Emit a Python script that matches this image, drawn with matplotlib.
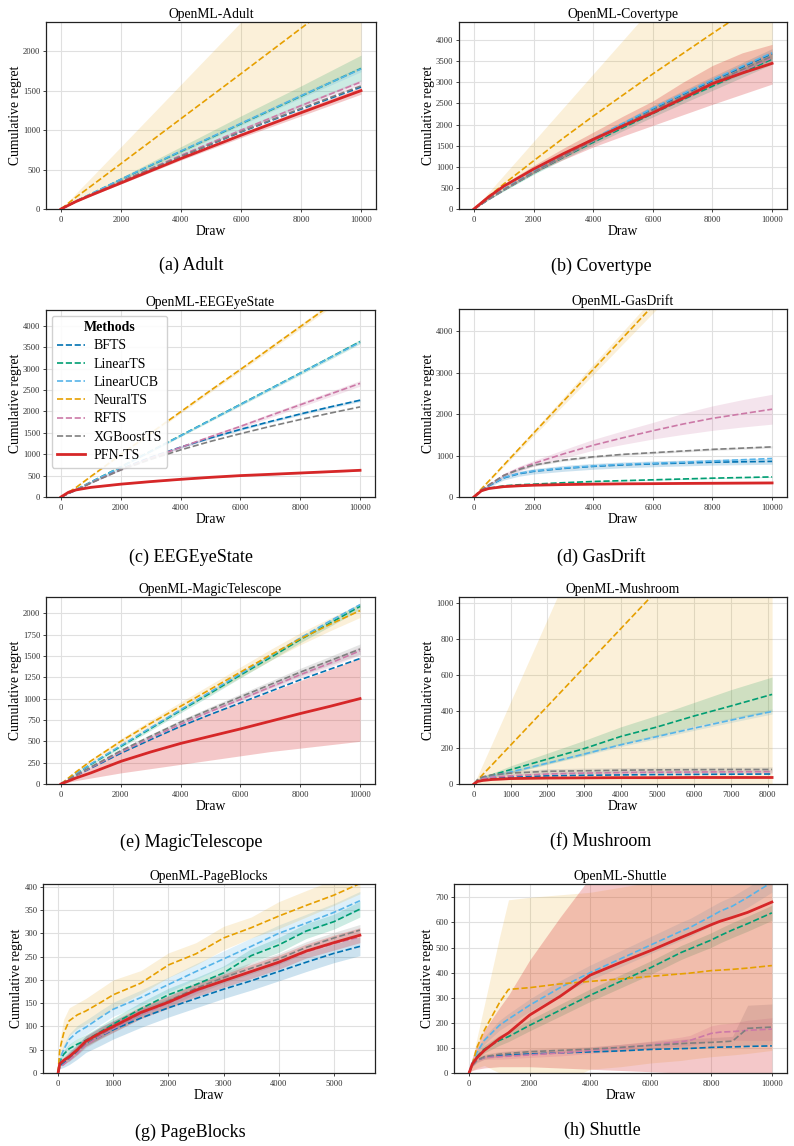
import numpy as np
import matplotlib
matplotlib.use("Agg")
import matplotlib.pyplot as plt
from matplotlib.ticker import MultipleLocator

plt.rcParams['font.family'] = ['Liberation Serif', 'DejaVu Serif']

METHODS = ["BFTS", "LinearTS", "LinearUCB", "NeuralTS", "RFTS", "XGBoostTS", "PFN-TS"]
COLORS = {"BFTS": "#0072B2", "LinearTS": "#009E73", "LinearUCB": "#56B4E9",
          "NeuralTS": "#E69F00", "RFTS": "#CC79A7", "XGBoostTS": "#7f7f7f",
          "PFN-TS": "#d62728"}

# ---------------- Adult
ADULT_X = [0, 500, 1000, 2000, 4000, 6000, 8000, 10000]
ADULT = {
    "BFTS":      [0, 95, 180, 345, 665, 975, 1265, 1545],
    "LinearTS":  [0, 100, 190, 375, 730, 1080, 1430, 1780],
    "LinearUCB": [0, 100, 192, 378, 735, 1085, 1435, 1775],
    "NeuralTS":  [0, 150, 290, 575, 1145, 1715, 2290, 2860],
    "RFTS":      [0, 95, 182, 350, 680, 1000, 1310, 1610],
    "XGBoostTS": [0, 95, 180, 347, 668, 980, 1275, 1560],
    "PFN-TS":    [0, 95, 175, 330, 640, 935, 1220, 1500],
}
ADULT_BAND = {
    "NeuralTS": ([0, 80, 170, 350, 710, 1070, 1420, 1770],
                 [0, 200, 395, 790, 1580, 2370, 3160, 3950]),
    "LinearTS": ([0, 95, 180, 350, 670, 990, 1300, 1620],
                 [0, 110, 205, 400, 790, 1180, 1560, 1950]),
    "LinearUCB": [0, 5, 8, 12, 20, 25, 30, 35],
    "RFTS":      [0, 4, 6, 10, 15, 20, 25, 30],
    "PFN-TS":    [0, 5, 8, 12, 20, 30, 40, 45],
}

# ---------------- Covertype
COVER_X = [0, 500, 1000, 2000, 3000, 4000, 5000, 6000, 7000, 8000, 9000, 10000]
COVER = {
    "BFTS":      [0, 240, 460, 880, 1270, 1650, 2010, 2370, 2710, 3040, 3360, 3680],
    "LinearTS":  [0, 230, 445, 850, 1225, 1580, 1925, 2260, 2590, 2910, 3230, 3550],
    "LinearUCB": [0, 240, 465, 890, 1285, 1665, 2030, 2390, 2730, 3060, 3385, 3700],
    "NeuralTS":  [0, 300, 590, 1140, 1680, 2200, 2700, 3200, 3680, 4160, 4630, 5100],
    "RFTS":      [0, 230, 450, 860, 1240, 1610, 1960, 2305, 2635, 2960, 3270, 3580],
    "XGBoostTS": [0, 235, 455, 870, 1255, 1625, 1985, 2335, 2665, 2990, 3305, 3620],
    "PFN-TS":    [0, 290, 540, 945, 1310, 1650, 1970, 2280, 2620, 2970, 3220, 3450],
}
COVER_BAND = {
    "NeuralTS": ([0, 230, 440, 840, 1220, 1590, 1940, 2280, 2600, 2920, 3240, 3560],
                 [0, 400, 800, 1600, 2400, 3200, 4000, 4800, 5600, 6400, 7200, 8000]),
    "BFTS":      [0, 10, 20, 35, 50, 60, 70, 80, 90, 100, 110, 120],
    "LinearTS":  [0, 10, 20, 35, 50, 60, 70, 80, 90, 100, 110, 120],
    "XGBoostTS": [0, 10, 20, 35, 50, 60, 70, 80, 90, 100, 110, 120],
    "PFN-TS": ([0, 260, 490, 860, 1170, 1470, 1730, 1980, 2230, 2480, 2720, 2960],
               [0, 320, 590, 1030, 1440, 1820, 2200, 2560, 3000, 3400, 3700, 3900]),
}

# ---------------- EEGEyeState
EEG_X = [0, 250, 500, 1000, 2000, 3000, 4000, 5000, 6000, 7000, 8000, 9000, 10000]
EEG = {
    "BFTS":      [0, 85, 160, 335, 655, 930, 1165, 1380, 1580, 1765, 1940, 2105, 2262],
    "LinearTS":  [0, 90, 170, 350, 705, 1070, 1435, 1800, 2165, 2530, 2895, 3260, 3630],
    "LinearUCB": [0, 90, 170, 348, 700, 1065, 1430, 1795, 2160, 2525, 2890, 3255, 3615],
    "NeuralTS":  [0, 110, 220, 480, 990, 1490, 1990, 2490, 2980, 3480, 3980, 4480, 4980],
    "RFTS":      [0, 85, 160, 330, 640, 910, 1160, 1410, 1650, 1905, 2155, 2405, 2655],
    "XGBoostTS": [0, 85, 158, 325, 630, 880, 1100, 1300, 1480, 1650, 1810, 1960, 2105],
    "PFN-TS":    [0, 110, 165, 225, 300, 360, 413, 460, 500, 530, 561, 592, 624],
}
EEG_BAND = {
    "NeuralTS":  [0, 5, 10, 15, 25, 30, 35, 40, 45, 50, 55, 60, 65],
    "LinearTS":  [0, 5, 8, 12, 18, 22, 26, 30, 34, 38, 42, 46, 50],
    "RFTS":      [0, 5, 8, 12, 18, 24, 30, 36, 42, 48, 54, 60, 66],
    "BFTS":      [0, 4, 6, 10, 14, 18, 20, 22, 24, 26, 28, 30, 32],
    "PFN-TS":    [0, 4, 6, 8, 10, 11, 12, 13, 14, 15, 16, 17, 18],
}

# ---------------- GasDrift
GAS_X = [0, 250, 500, 1000, 1500, 2000, 3000, 4000, 5000, 6000, 7000, 8000, 9000, 10000]
GAS = {
    "BFTS":      [0, 160, 270, 460, 560, 620, 690, 740, 775, 800, 820, 840, 850, 860],
    "LinearTS":  [0, 150, 210, 270, 295, 310, 345, 375, 395, 415, 435, 455, 470, 485],
    "LinearUCB": [0, 160, 275, 470, 570, 630, 700, 750, 790, 815, 840, 870, 900, 930],
    "NeuralTS":  [0, 195, 385, 770, 1155, 1540, 2310, 3080, 3850, 4620, 5390, 6160, 6930, 7700],
    "RFTS":      [0, 170, 290, 520, 680, 810, 1040, 1250, 1430, 1600, 1760, 1900, 2010, 2120],
    "XGBoostTS": [0, 170, 290, 520, 660, 770, 890, 970, 1030, 1070, 1110, 1150, 1180, 1210],
    "PFN-TS":    [0, 150, 205, 250, 270, 285, 300, 310, 318, 322, 328, 332, 336, 340],
}
GAS_BAND = {
    "NeuralTS":  [0, 10, 20, 35, 50, 65, 95, 125, 150, 180, 210, 240, 270, 300],
    "RFTS": ([0, 150, 260, 480, 620, 740, 940, 1130, 1270, 1400, 1510, 1610, 1690, 1760],
             [0, 190, 320, 570, 740, 880, 1140, 1390, 1600, 1800, 2020, 2200, 2350, 2480]),
    "BFTS":      [0, 15, 30, 50, 60, 65, 70, 70, 70, 70, 70, 70, 70, 70],
    "XGBoostTS": [0, 10, 15, 20, 25, 25, 25, 25, 25, 25, 25, 25, 25, 25],
    "LinearTS":  [0, 8, 10, 12, 12, 12, 12, 12, 12, 12, 12, 12, 12, 12],
    "PFN-TS":    [0, 8, 10, 12, 12, 12, 14, 14, 15, 16, 17, 18, 19, 20],
}

# ---------------- MagicTelescope
MAGIC_X = [0, 500, 1000, 2000, 3000, 4000, 5000, 6000, 7000, 8000, 9000, 10000]
MAGIC = {
    "BFTS":      [0, 97, 185, 360, 520, 675, 815, 950, 1085, 1220, 1345, 1470],
    "LinearTS":  [0, 118, 230, 440, 650, 860, 1065, 1275, 1480, 1690, 1885, 2080],
    "LinearUCB": [0, 120, 235, 450, 660, 870, 1080, 1290, 1500, 1710, 1910, 2100],
    "NeuralTS":  [0, 140, 270, 500, 710, 910, 1110, 1310, 1510, 1700, 1870, 2030],
    "RFTS":      [0, 100, 192, 375, 540, 700, 850, 990, 1135, 1280, 1415, 1560],
    "XGBoostTS": [0, 105, 200, 390, 560, 725, 875, 1020, 1165, 1310, 1445, 1580],
    "PFN-TS":    [0, 70, 130, 265, 375, 475, 560, 645, 735, 825, 910, 1000],
}
MAGIC_BAND = {
    "NeuralTS":  [0, 10, 20, 30, 40, 50, 55, 60, 65, 70, 75, 80],
    "LinearTS":  [0, 8, 12, 18, 22, 26, 30, 32, 34, 36, 38, 40],
    "XGBoostTS": [0, 8, 12, 18, 22, 26, 30, 35, 40, 45, 50, 60],
    "RFTS":      [0, 8, 12, 16, 20, 24, 28, 32, 36, 40, 44, 48],
    "PFN-TS": ([0, 40, 70, 130, 180, 230, 280, 330, 380, 420, 460, 500],
               [0, 95, 185, 370, 530, 690, 830, 950, 1080, 1210, 1340, 1480]),
}

# ---------------- Mushroom
MUSH_X = [0, 100, 250, 500, 1000, 2000, 3000, 4000, 5000, 6000, 7000, 8124]
MUSH = {
    "BFTS":      [0, 15, 25, 32, 38, 45, 48, 50, 52, 53, 54, 55],
    "LinearTS":  [0, 20, 35, 50, 79, 137, 195, 262, 315, 375, 430, 494],
    "LinearUCB": [0, 18, 32, 45, 66, 115, 165, 216, 262, 308, 352, 400],
    "NeuralTS":  [0, 21, 54, 107, 214, 428, 642, 856, 1070, 1284, 1498, 1739],
    "RFTS":      [0, 18, 30, 38, 45, 55, 60, 63, 65, 66, 67, 68],
    "XGBoostTS": [0, 25, 40, 50, 60, 70, 73, 76, 78, 79, 80, 80],
    "PFN-TS":    [0, 14, 20, 25, 30, 33, 34, 35, 35, 36, 36, 36],
}
MUSH_BAND = {
    "NeuralTS": ([0, 0, 0, 0, 0, 0, 0, 0, 0, 0, 0, 0],
                 [0, 45, 114, 227, 454, 908, 1362, 1816, 2270, 2724, 3178, 3688]),
    "LinearTS": ([0, 15, 28, 40, 60, 110, 160, 220, 265, 320, 360, 400],
                 [0, 25, 42, 60, 100, 170, 240, 315, 380, 450, 520, 590]),
    "LinearUCB": [0, 3, 4, 5, 6, 8, 9, 10, 11, 12, 13, 14],
    "XGBoostTS": [0, 6, 8, 10, 12, 14, 15, 15, 15, 15, 15, 15],
    "RFTS":      [0, 5, 6, 8, 9, 10, 10, 10, 10, 10, 10, 10],
    "PFN-TS":    [0, 3, 4, 4, 5, 5, 5, 5, 5, 5, 5, 5],
}

# ---------------- PageBlocks
PAGE_X = [0, 30, 100, 200, 350, 500, 750, 1000, 1500, 2000, 2500, 3000, 3500, 4000, 4500, 5000, 5473]
PAGE = {
    "BFTS":      [0, 15, 22, 32, 46, 62, 78, 93, 118, 140, 160, 180, 198, 218, 238, 257, 272],
    "LinearTS":  [0, 25, 40, 52, 62, 70, 87, 105, 138, 168, 190, 215, 252, 275, 305, 325, 352],
    "LinearUCB": [0, 30, 50, 72, 88, 98, 118, 137, 162, 190, 218, 245, 272, 300, 322, 345, 370],
    "NeuralTS":  [0, 50, 85, 112, 125, 133, 150, 168, 193, 232, 256, 290, 312, 337, 360, 382, 407],
    "RFTS":      [0, 12, 18, 28, 42, 60, 78, 95, 125, 150, 175, 198, 218, 236, 260, 278, 292],
    "XGBoostTS": [0, 18, 25, 33, 48, 64, 82, 98, 128, 155, 182, 205, 225, 245, 270, 290, 307],
    "PFN-TS":    [0, 20, 27, 35, 50, 68, 85, 100, 130, 152, 178, 198, 218, 238, 262, 280, 296],
}
PAGE_BAND = {
    "NeuralTS": ([0, 30, 55, 80, 95, 105, 120, 140, 170, 205, 232, 265, 290, 310, 335, 360, 385],
                 [0, 70, 115, 140, 150, 160, 180, 200, 220, 258, 280, 315, 335, 368, 392, 415, 430]),
    "LinearUCB": [0, 8, 10, 12, 14, 15, 15, 15, 16, 16, 17, 17, 18, 18, 19, 19, 20],
    "LinearTS":  [0, 6, 8, 10, 12, 12, 13, 13, 14, 14, 15, 15, 15, 16, 16, 16, 17],
    "BFTS":      [0, 6, 10, 14, 16, 18, 20, 20, 20, 20, 20, 20, 20, 20, 20, 20, 20],
    "XGBoostTS": [0, 4, 6, 8, 9, 10, 10, 11, 11, 12, 12, 12, 12, 12, 12, 12, 12],
    "PFN-TS":    [0, 5, 7, 9, 10, 11, 12, 12, 13, 13, 14, 14, 15, 15, 15, 16, 16],
}

# ---------------- Shuttle
SHUT_X = [0, 100, 250, 500, 1000, 1300, 2000, 3000, 4000, 5000, 6000, 7000, 7300, 8000, 8300, 8700, 9200, 10000]
SHUT = {
    "BFTS":      [0, 30, 50, 62, 70, 72, 76, 80, 84, 88, 94, 97, 98, 102, 103, 104, 106, 108],
    "LinearTS":  [0, 35, 65, 95, 130, 145, 190, 250, 310, 365, 420, 480, 495, 530, 548, 570, 595, 638],
    "LinearUCB": [0, 40, 80, 130, 190, 215, 270, 340, 400, 455, 510, 565, 580, 625, 645, 665, 700, 760],
    "NeuralTS":  [0, 30, 100, 170, 280, 333, 340, 355, 365, 375, 385, 395, 398, 408, 410, 413, 418, 428],
    "RFTS":      [0, 30, 50, 62, 65, 67, 72, 80, 90, 100, 112, 125, 130, 158, 163, 165, 170, 175],
    "XGBoostTS": [0, 30, 50, 65, 75, 78, 85, 90, 95, 102, 110, 117, 119, 122, 124, 127, 178, 183],
    "PFN-TS":    [0, 35, 60, 90, 137, 160, 231, 305, 390, 440, 488, 540, 555, 591, 605, 620, 640, 681],
}
SHUT_BAND = {
    "NeuralTS": ([0, 10, 20, 30, 0, -30, -60, -40, 15, 25, 40, 50, 55, 65, 68, 72, 78, 90],
                 [0, 55, 135, 270, 540, 690, 700, 710, 720, 740, 760, 780, 785, 800, 805, 810, 815, 830]),
    "LinearTS":  [0, 5, 10, 15, 20, 20, 22, 24, 25, 26, 27, 28, 28, 29, 29, 30, 30, 30],
    "LinearUCB": [0, 5, 10, 15, 20, 22, 25, 28, 30, 32, 34, 36, 36, 38, 38, 39, 40, 40],
    "RFTS":      [0, 5, 6, 8, 10, 10, 10, 12, 12, 14, 15, 18, 20, 30, 32, 34, 40, 45],
    "XGBoostTS": ([0, 25, 40, 55, 65, 68, 75, 80, 85, 90, 95, 100, 100, 103, 105, 108, 110, 115],
                  [0, 35, 60, 75, 85, 88, 95, 100, 105, 114, 125, 134, 137, 141, 143, 146, 270, 275]),
    "PFN-TS": ([0, 10, 15, 20, 25, 25, 25, 20, 15, 10, 5, 0, 0, 0, 0, 0, 0, 0],
               [0, 60, 110, 170, 260, 310, 450, 620, 780, 900, 1000, 1100, 1120, 1200, 1220, 1250, 1280, 1350]),
}

PANELS = [
    ("OpenML-Adult", "(a) Adult", ADULT_X, ADULT, ADULT_BAND, 2370, 500, 2000),
    ("OpenML-Covertype", "(b) Covertype", COVER_X, COVER, COVER_BAND, 4430, 500, 2000),
    ("OpenML-EEGEyeState", "(c) EEGEyeState", EEG_X, EEG, EEG_BAND, 4370, 500, 2000),
    ("OpenML-GasDrift", "(d) GasDrift", GAS_X, GAS, GAS_BAND, 4540, 1000, 2000),
    ("OpenML-MagicTelescope", "(e) MagicTelescope", MAGIC_X, MAGIC, MAGIC_BAND, 2190, 250, 2000),
    ("OpenML-Mushroom", "(f) Mushroom", MUSH_X, MUSH, MUSH_BAND, 1031, 200, 1000),
    ("OpenML-PageBlocks", "(g) PageBlocks", PAGE_X, PAGE, PAGE_BAND, 406, 50, 1000),
    ("OpenML-Shuttle", "(h) Shuttle", SHUT_X, SHUT, SHUT_BAND, 753, 100, 2000),
]

# axes boxes in pixels: left, top, right, bottom
BOXES = [(46, 22, 376, 209), (459, 22, 787, 209),
         (46, 310, 375, 497), (459, 309, 787, 497),
         (46, 597, 375, 784), (459, 597, 787, 784),
         (43, 884, 375, 1073), (454, 884, 787, 1073)]
CAPTION_XY = [(191, 265), (601, 266), (191, 557), (601, 557),
              (191, 842), (601, 841), (190, 1132), (602, 1130)]

W, H = 794, 1146
fig = plt.figure(figsize=(W / 100, H / 100), dpi=100)

for i, (title, cap, x, means, bands, ytop, ystep, xstep) in enumerate(PANELS):
    l, t, r, b = BOXES[i]
    ax = fig.add_axes([l / W, 1 - b / H, (r - l) / W, (b - t) / H])
    x = np.array(x, dtype=float)
    for m in METHODS:
        y = np.array(means[m], dtype=float)
        c = COLORS[m]
        band = bands.get(m)
        if band is not None:
            if isinstance(band, tuple):
                lo, hi = np.array(band[0]), np.array(band[1])
            else:
                lo, hi = y - np.array(band), y + np.array(band)
            a = 0.15 if m == "NeuralTS" else (0.25 if m == "PFN-TS" else 0.2)
            ax.fill_between(x, lo, hi, color=c, alpha=a, lw=0)
        if m == "PFN-TS":
            ax.plot(x, y, color=c, lw=2.0, label=m, zorder=5)
        else:
            ax.plot(x, y, color=c, lw=1.2, ls="--", label=m)
    xmax = x[-1]
    ax.set_xlim(-0.05 * xmax, 1.05 * xmax)
    ax.set_ylim(0, ytop)
    ax.yaxis.set_major_locator(MultipleLocator(ystep))
    ax.xaxis.set_major_locator(MultipleLocator(xstep))
    ax.grid(True, color="#e0e0e0", lw=0.8)
    ax.set_axisbelow(True)
    for s in ax.spines.values():
        s.set_linewidth(0.9)
        s.set_color("#222222")
    ax.tick_params(axis="both", labelsize=6.2, length=2.5, width=0.7, color="#444444",
                   labelcolor="#333333")
    ax.tick_params(axis="x", pad=2.5)
    ax.tick_params(axis="y", pad=1.5)
    ax.set_title(title, fontsize=9.8, pad=3)
    ax.set_xlabel("Draw", fontsize=9.8, labelpad=0.5)
    ax.set_ylabel("Cumulative regret", fontsize=9.8, labelpad=1)
    if i == 2:
        ax.legend(title="Methods", loc="upper left", fontsize=10,
                  title_fontproperties={"weight": "bold", "size": 10},
                  labelspacing=0.38, handlelength=2.0, handletextpad=0.6,
                  borderaxespad=0.4, framealpha=0.9, edgecolor="#cccccc")
    cx, cy = CAPTION_XY[i]
    fig.text(cx / W, 1 - cy / H, cap, ha="center", va="center", fontsize=13)

fig.savefig("out.png", dpi=100)
